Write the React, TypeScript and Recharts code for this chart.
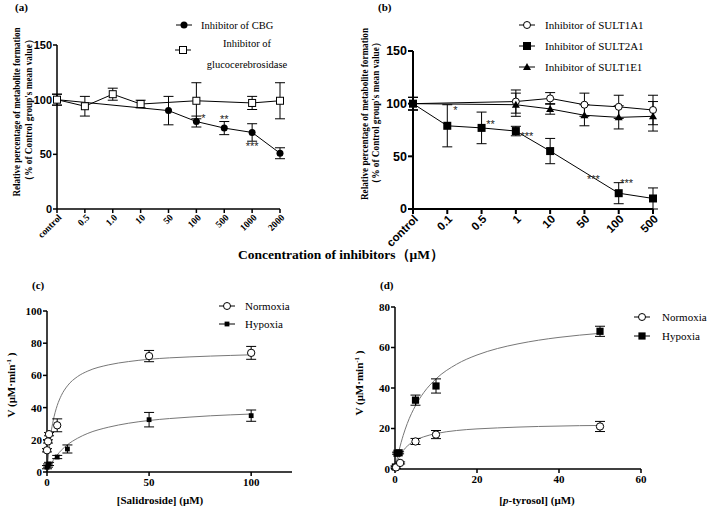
import React from 'react'
import { ComposedChart, Line, Scatter, XAxis, YAxis, ErrorBar, ReferenceDot } from 'recharts'

const SERIF = '"Liberation Serif", "Times New Roman", serif'
const SANS = '"Liberation Sans", Arial, sans-serif'

// (a) inhibitors of CBG / glucocerebrosidase
const catsA = ['control', '0.5', '1.0', '10', '50', '100', '500', '1000', '2000']
const cbgVals = [100, null, null, null, 90, 80, 74, 70, 51]
const cbgErr = [5, null, null, null, 13, 5, 6, 8, 5]
const gluVals = [100, 94, 105, 96, null, 99, null, 97, 99]
const gluErr = [5, 9, 5.5, 3.5, null, 16.5, null, 6, 16.5]
const starsA = [
  { cat: '100', v: 85, s: '*', dx: 7 },
  { cat: '500', v: 84, s: '**', dx: 0 },
  { cat: '1000', v: 59, s: '***', dx: 0 },
]

// (b) SULT inhibitors
const catsB = ['control', '0.1', '0.5', '1', '10', '50', '100', '500']
const s1a1Vals = [100, null, null, 102, 105, 99, 97, 94]
const s1a1Err = [6, null, null, 11, 5.5, 11, 11, 14]
const s2a1Vals = [100, 79, 77, 74, 55, null, 15, 10]
const s2a1Err = [6, 20, 15, 4.5, 12, null, 10, 10]
const s1e1Vals = [100, null, null, 99, 95, 89, 87, 88]
const s1e1Err = [6, null, null, 11, 5, 10, 11, 14]
const starsB = [
  { cat: '0.1', v: 96, s: '*', dx: 8 },
  { cat: '0.5', v: 83, s: '**', dx: 9 },
  { cat: '1', v: 71, s: '***', dx: 11 },
  { cat: '50', v: 30, s: '***', dx: 9 },
  { cat: '100', v: 27, s: '***', dx: 8 },
]

// (c) salidroside kinetics
const cNormX = [0, 0.5, 1, 5, 50, 100]
const cNormV = [13.5, 19, 23.5, 29, 72, 74]
const cNormE = [1, 1, 1, 4, 3.5, 4]
const cHypX = [0, 0.5, 1, 5, 10, 50, 100]
const cHypV = [3, 4, 5, 9.3, 14.3, 32.5, 35]
const cHypE = [1, 1, 1, 1, 2.5, 4.5, 3.5]
const cCurveX = [0, 0.5, 1, 2, 3, 4, 5, 7, 10, 15, 20, 30, 40, 50, 60, 70, 80, 90, 100]
const cNormCurve = [0, 8.1, 14.7, 24.6, 31.7, 37.1, 41.3, 47.5, 53.5, 59.3, 62.7, 66.5, 68.6, 70, 70.9, 71.5, 72, 72.4, 72.8]
const cHypCurve = [0, 1.4, 2.7, 5.0, 7.1, 9.0, 10.6, 13.5, 16.9, 21.0, 24.0, 27.8, 30.3, 32.0, 33.2, 34.1, 34.9, 35.5, 36.0]

// (d) p-tyrosol kinetics
const dNormX = [0.25, 1.25, 5, 10, 50]
const dNormV = [0.8, 3, 13.6, 17, 21]
const dNormE = [0.5, 0.5, 1.5, 2, 2.5]
const dHypX = [0.1, 0.5, 1, 5, 10, 50]
const dHypV = [1, 7.8, 8, 34, 41, 68]
const dHypE = [0.5, 0.5, 0.5, 2.5, 3.5, 2.5]
const dCurveX = [0, 0.5, 1, 2, 3, 5, 7, 10, 15, 20, 25, 30, 35, 40, 45, 50]
const dHypCurve = [0, 5.0, 9.3, 16.6, 22.5, 31.3, 37.7, 44.5, 51.7, 56.3, 59.5, 61.8, 63.6, 65.0, 66.1, 67.0]
const dNormCurve = [0, 3.2, 5.7, 9.1, 11.3, 14.2, 15.9, 17.5, 19.0, 19.8, 20.3, 20.7, 21.0, 21.2, 21.4, 21.5]

const rowsA = catsA.map((c, i) => ({ cat: c, cbg: cbgVals[i], cbgE: cbgErr[i], glu: gluVals[i], gluE: gluErr[i] }))
const rowsB = catsB.map((c, i) => ({
  cat: c, a1: s1a1Vals[i], a1E: s1a1Err[i], a2: s2a1Vals[i], a2E: s2a1Err[i], e1: s1e1Vals[i], e1E: s1e1Err[i],
}))
const pts = (xs: number[], vs: number[], es?: number[]) => xs.map((x, i) => ({ x, v: vs[i], e: es ? es[i] : undefined }))

function Mark({ kind, x, y, s = 1 }: { kind: string; x: number; y: number; s?: number }) {
  if (kind === 'fc') return <circle cx={x} cy={y} r={3.5 * s} fill="#000" />
  if (kind === 'oc') return <circle cx={x} cy={y} r={3.5 * s} fill="#fff" stroke="#000" strokeWidth={1} />
  if (kind === 'fs') return <rect x={x - 4 * s} y={y - 4 * s} width={8 * s} height={8 * s} fill="#000" />
  if (kind === 'os') return <rect x={x - 3.5 * s} y={y - 3.5 * s} width={7 * s} height={7 * s} fill="#fff" stroke="#000" strokeWidth={1} />
  if (kind === 'ft')
    return <polygon points={`${x},${y - 4 * s} ${x + 4 * s},${y + 3 * s} ${x - 4 * s},${y + 3 * s}`} fill="#000" />
  return null
}

const marker = (kind: string, s = 1) => (p: any) => {
  const { cx, cy, index } = p
  const v = p.value ?? p.payload?.v
  if (cx == null || cy == null || v == null || Number.isNaN(cx) || Number.isNaN(cy)) return <g key={`m${index}`} />
  return <g key={`m${index}`}><Mark kind={kind} x={cx} y={cy} s={s} /></g>
}

const starShape = (s: string, dx: number) => (p: any) => (
  <text x={p.cx + dx} y={p.cy + 6} textAnchor="middle" fontFamily={SANS} fontSize={11} fill="#222">{s}</text>
)

const RotTick = ({ x, y, payload, font, size }: any) => (
  <text
    x={x + 3}
    y={y + 1}
    transform={`rotate(-45 ${x + 3} ${y + 1})`}
    textAnchor="end"
    dominantBaseline="central"
    fontFamily={font}
    fontWeight="bold"
    fontSize={size}
    fill="#000"
  >
    {payload.value}
  </text>
)

const axisStyle = { stroke: '#000', strokeWidth: 1.5 }
const eb = { stroke: '#000', strokeWidth: 1, width: 5 }

function LegendItem({ x, y, kind, label, s = 1, size = 11, x2 }: any) {
  return (
    <g>
      <line x1={x - 8} x2={x + 8} y1={y} y2={y} stroke="#000" strokeWidth={1} />
      <Mark kind={kind} x={x} y={y} s={s} />
      <text x={x2} y={y + 4} fontFamily={SERIF} fontSize={size} fill="#000">{label}</text>
    </g>
  )
}

export default function App() {
  return (
    <div style={{ position: 'absolute', left: 0, top: 0, width: 709, height: 509, background: '#fff' }}>
      {/* (a) */}
      <div style={{ position: 'absolute', left: 0, top: 0 }}>
        <ComposedChart width={300} height={260} data={rowsA} margin={{ top: 45, right: 20, left: 27, bottom: 11 }}>
          <XAxis dataKey="cat" type="category" height={40} axisLine={axisStyle} tickLine={axisStyle} tickSize={4}
            interval={0} tick={<RotTick font={SERIF} size={9.5} />} />
          <YAxis type="number" domain={[0, 150]} ticks={[0, 50, 100, 150]} width={30} axisLine={axisStyle}
            tickLine={axisStyle} tickSize={4} tickMargin={1}
            tick={{ fill: '#000', fontFamily: SANS, fontWeight: 'bold', fontSize: 11 }} />
          <Line dataKey="cbg" stroke="#000" strokeWidth={1} connectNulls isAnimationActive={false}
            dot={marker('fc')} activeDot={false}>
            <ErrorBar dataKey="cbgE" direction="y" {...eb} />
          </Line>
          <Line dataKey="glu" stroke="#000" strokeWidth={1} connectNulls isAnimationActive={false}
            dot={marker('os')} activeDot={false}>
            <ErrorBar dataKey="gluE" direction="y" {...eb} />
          </Line>
          {starsA.map((s) => (
            <ReferenceDot key={s.cat} x={s.cat} y={s.v} r={0} shape={starShape(s.s, s.dx)} />
          ))}
        </ComposedChart>
      </div>

      {/* (b) */}
      <div style={{ position: 'absolute', left: 350, top: 0 }}>
        <ComposedChart width={320} height={260} data={rowsB} margin={{ top: 51, right: 17, left: 33, bottom: 11 }}>
          <XAxis dataKey="cat" type="category" height={40} axisLine={{ stroke: '#000', strokeWidth: 2 }}
            tickLine={{ stroke: '#000', strokeWidth: 2 }} tickSize={5} interval={0}
            tick={<RotTick font={SANS} size={11.5} />} />
          <YAxis type="number" domain={[0, 150]} ticks={[0, 50, 100, 150]} width={30}
            axisLine={{ stroke: '#000', strokeWidth: 2 }} tickLine={{ stroke: '#000', strokeWidth: 2 }} tickSize={5}
            tickMargin={1} tick={{ fill: '#000', fontFamily: SANS, fontWeight: 'bold', fontSize: 12.5 }} />
          <Line dataKey="a1" stroke="#000" strokeWidth={1} connectNulls isAnimationActive={false}
            dot={marker('oc')} activeDot={false}>
            <ErrorBar dataKey="a1E" direction="y" {...eb} />
          </Line>
          <Line dataKey="e1" stroke="#000" strokeWidth={1} connectNulls isAnimationActive={false}
            dot={marker('ft')} activeDot={false}>
            <ErrorBar dataKey="e1E" direction="y" {...eb} />
          </Line>
          <Line dataKey="a2" stroke="#000" strokeWidth={1} connectNulls isAnimationActive={false}
            dot={marker('fs')} activeDot={false}>
            <ErrorBar dataKey="a2E" direction="y" {...eb} />
          </Line>
          {starsB.map((s) => (
            <ReferenceDot key={s.cat} x={s.cat} y={s.v} r={0} shape={starShape(s.s, s.dx)} />
          ))}
        </ComposedChart>
      </div>

      {/* (c) */}
      <div style={{ position: 'absolute', left: 0, top: 270 }}>
        <ComposedChart width={300} height={239} margin={{ top: 41, right: 8, left: 17, bottom: 12 }}>
          <XAxis dataKey="x" type="number" domain={[0, 120]} ticks={[0, 50, 100]} height={25} axisLine={axisStyle}
            tickLine={axisStyle} tickSize={4} tick={{ fill: '#000', fontFamily: SERIF, fontWeight: 'bold', fontSize: 11 }} />
          <YAxis type="number" domain={[0, 100]} ticks={[0, 20, 40, 60, 80, 100]} width={30} axisLine={axisStyle}
            tickLine={axisStyle} tickSize={4} tickMargin={1}
            tick={{ fill: '#000', fontFamily: SERIF, fontWeight: 'bold', fontSize: 11 }} />
          <Line data={pts(cCurveX, cNormCurve)} dataKey="v" type="monotone" stroke="#777" strokeWidth={1}
            dot={false} activeDot={false} isAnimationActive={false} />
          <Line data={pts(cCurveX, cHypCurve)} dataKey="v" type="monotone" stroke="#777" strokeWidth={1}
            dot={false} activeDot={false} isAnimationActive={false} />
          <Scatter data={pts(cHypX, cHypV, cHypE)} dataKey="v" isAnimationActive={false} shape={marker('fs', 0.6)}>
            <ErrorBar dataKey="e" direction="y" {...eb} />
          </Scatter>
          <Scatter data={pts(cNormX, cNormV, cNormE)} dataKey="v" isAnimationActive={false} shape={marker('oc', 1.05)}>
            <ErrorBar dataKey="e" direction="y" {...eb} />
          </Scatter>
        </ComposedChart>
      </div>

      {/* (d) */}
      <div style={{ position: 'absolute', left: 350, top: 270 }}>
        <ComposedChart width={300} height={239} margin={{ top: 37, right: 9, left: 15, bottom: 15 }}>
          <XAxis dataKey="x" type="number" domain={[0, 60]} ticks={[0, 20, 40, 60]} height={25} axisLine={axisStyle}
            tickLine={axisStyle} tickSize={4} tick={{ fill: '#000', fontFamily: SERIF, fontWeight: 'bold', fontSize: 11 }} />
          <YAxis type="number" domain={[0, 80]} ticks={[0, 20, 40, 60, 80]} width={30} axisLine={axisStyle}
            tickLine={axisStyle} tickSize={4} tickMargin={1}
            tick={{ fill: '#000', fontFamily: SERIF, fontWeight: 'bold', fontSize: 11 }} />
          <Line data={pts(dCurveX, dHypCurve)} dataKey="v" type="monotone" stroke="#777" strokeWidth={1}
            dot={false} activeDot={false} isAnimationActive={false} />
          <Line data={pts(dCurveX, dNormCurve)} dataKey="v" type="monotone" stroke="#777" strokeWidth={1}
            dot={false} activeDot={false} isAnimationActive={false} />
          <Scatter data={pts(dHypX, dHypV, dHypE)} dataKey="v" isAnimationActive={false} shape={marker('fs', 0.9)}>
            <ErrorBar dataKey="e" direction="y" {...eb} />
          </Scatter>
          <Scatter data={pts(dNormX, dNormV, dNormE)} dataKey="v" isAnimationActive={false} shape={marker('oc', 1.05)}>
            <ErrorBar dataKey="e" direction="y" {...eb} />
          </Scatter>
        </ComposedChart>
      </div>

      {/* titles, panel letters and legends */}
      <svg width={709} height={509} style={{ position: 'absolute', left: 0, top: 0, pointerEvents: 'none' }}>
        <g fontFamily={SERIF} fontWeight="bold" fontSize={11} fill="#000">
          <text x={15} y={11}>(a)</text>
          <text x={378} y={11}>(b)</text>
          <text x={32} y={289}>(c)</text>
          <text x={380} y={289}>(d)</text>
        </g>

        <g fontFamily={SERIF} fontWeight="bold" fontSize={10} fill="#000" textAnchor="middle">
          <text transform="translate(20,112) rotate(-90)" textLength={169} lengthAdjust="spacingAndGlyphs">
            Relative percentage of metabolite formation
          </text>
          <text transform="translate(32,110) rotate(-90)" textLength={150} lengthAdjust="spacingAndGlyphs">
            （% of Control group's mean value）
          </text>
          <text transform="translate(368,114) rotate(-90)" textLength={172} lengthAdjust="spacingAndGlyphs">
            Relative percentage of metabolite formation
          </text>
          <text transform="translate(379,113) rotate(-90)" textLength={150} lengthAdjust="spacingAndGlyphs">
            （% of Control group's mean value）
          </text>
        </g>

        <text x={341} y={259} textAnchor="middle" fontFamily={SERIF} fontWeight="bold" fontSize={13.5} fill="#000">
          Concentration of inhibitors（μM）
        </text>

        <g fontFamily={SERIF} fontWeight="bold" fontSize={11} fill="#000" textAnchor="middle">
          <text transform="translate(15,385) rotate(-90)">
            V (μM·min<tspan dy={-4} fontSize={7}>-1</tspan><tspan dy={4}> )</tspan>
          </text>
          <text transform="translate(363,383) rotate(-90)">
            V (μM·min<tspan dy={-4} fontSize={7}>-1</tspan><tspan dy={4}> )</tspan>
          </text>
          <text x={160} y={504}>[Salidroside] (μM)</text>
          <text x={537} y={504}>
            [<tspan fontStyle="italic">p</tspan>-tyrosol] (μM)
          </text>
        </g>

        <LegendItem x={184} y={25} kind="fc" label="Inhibitor of CBG" x2={201} size={10.5} />
        <LegendItem x={183} y={50} kind="os" label="" x2={201} />
        <text x={247} y={47} textAnchor="middle" fontFamily={SERIF} fontSize={10.5}>Inhibitor of</text>
        <text x={247} y={68} textAnchor="middle" fontFamily={SERIF} fontSize={10.5}>glucocerebrosidase</text>

        <LegendItem x={527} y={25} kind="oc" label="Inhibitor of SULT1A1" x2={545} />
        <LegendItem x={527} y={46} kind="fs" label="Inhibitor of SULT2A1" x2={545} />
        <LegendItem x={527} y={67} kind="ft" label="Inhibitor of SULT1E1" x2={545} />

        <LegendItem x={227} y={306} kind="oc" label="Normoxia" x2={245} />
        <LegendItem x={227} y={324} kind="fs" s={0.6} label="Hypoxia" x2={245} />

        <LegendItem x={642} y={317} kind="oc" label="Normoxia" x2={662} />
        <LegendItem x={642} y={336} kind="fs" s={0.9} label="Hypoxia" x2={662} />
      </svg>
    </div>
  )
}
